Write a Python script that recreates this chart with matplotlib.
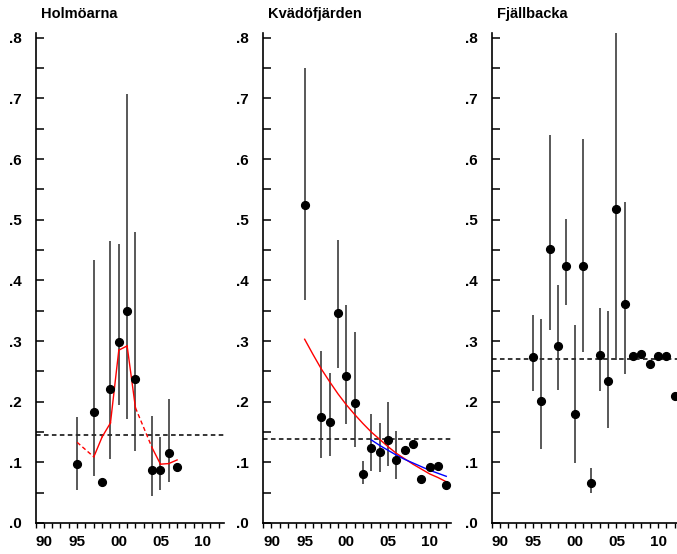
import numpy as np
import matplotlib
matplotlib.use('Agg')
import matplotlib.pyplot as plt
from matplotlib.ticker import MultipleLocator, FuncFormatter

plt.rcParams['font.family'] = ['Liberation Sans', 'DejaVu Sans']
plt.rcParams['font.weight'] = 'bold'

nan = np.nan

# Holmöarna
years1 = [1995, 1997, 1998, 1999, 2000, 2001, 2002, 2004, 2005, 2006, 2007]
mean1 = [0.098, 0.183, 0.068, 0.221, 0.299, 0.350, 0.238, 0.088, 0.087, 0.116, 0.093]
lo1 = [0.055, 0.077, nan, 0.106, 0.194, 0.172, 0.118, 0.045, 0.055, 0.067, nan]
hi1 = [0.174, 0.434, nan, 0.465, 0.460, 0.708, 0.480, 0.177, 0.141, 0.204, nan]
red_years1 = [1995, 1997, 1998, 1999, 2000, 2001, 2002, 2004, 2005, 2006, 2007]
red1 = [0.133, 0.109, 0.142, 0.165, 0.285, 0.292, 0.190, 0.124, 0.097, 0.098, 0.104]
ref1 = 0.145

# Kvädöfjärden
years2 = [1995, 1997, 1998, 1999, 2000, 2001, 2002, 2003, 2004, 2005, 2006,
          2007, 2008, 2009, 2010, 2011, 2012]
mean2 = [0.524, 0.174, 0.166, 0.346, 0.242, 0.198, 0.080, 0.123, 0.117, 0.137,
         0.104, 0.120, 0.130, 0.072, 0.092, 0.094, 0.063]
lo2 = [0.367, 0.108, 0.111, 0.255, 0.164, 0.125, 0.064, 0.086, 0.084, 0.094,
       0.072, nan, nan, nan, nan, nan, nan]
hi2 = [0.750, 0.284, 0.247, 0.467, 0.359, 0.315, 0.102, 0.179, 0.165, 0.199,
       0.152, nan, nan, nan, nan, nan, nan]
red_years2 = list(range(1995, 2013))
red2 = [0.303, 0.278, 0.254, 0.233, 0.213, 0.195, 0.179, 0.164, 0.150, 0.138,
        0.126, 0.115, 0.106, 0.097, 0.089, 0.081, 0.075, 0.068]
blue_years2 = list(range(2003, 2013))
blue2 = [0.137, 0.128, 0.120, 0.112, 0.105, 0.099, 0.093, 0.087, 0.082, 0.077]
ref2 = 0.139

# Fjällbacka
years3 = list(range(1995, 2013))
mean3 = [0.273, 0.202, 0.451, 0.292, 0.424, 0.179, 0.423, 0.066, 0.277, 0.234,
         0.518, 0.361, 0.275, 0.279, 0.262, 0.275, 0.275, 0.210]
lo3 = [0.217, 0.122, 0.318, 0.219, 0.359, 0.099, 0.282, 0.050, 0.218, 0.157,
       0.268, 0.246, nan, nan, nan, nan, nan, nan]
hi3 = [0.343, 0.336, 0.640, 0.392, 0.501, 0.327, 0.634, 0.091, 0.354, 0.349,
       0.809, 0.530, nan, nan, nan, nan, nan, nan]
ref3 = 0.271

titles = ['Holmöarna', 'Kvädöfjärden', 'Fjällbacka']
year_ticks = [1990, 1995, 2000, 2005, 2010]

W, H = 677, 554
fig = plt.figure(figsize=(W / 100, H / 100), dpi=100)

lefts = [35.5, 263, 491.5]
axes = []
for i, lp in enumerate(lefts):
    ax = fig.add_axes([lp / W, 31 / H, 188 / W, 490 / H])
    ax.set_xlim(1990, 2012.57)
    ax.set_ylim(0, 0.808)
    for s in ['top', 'right']:
        ax.spines[s].set_visible(False)
    for s in ['left', 'bottom']:
        ax.spines[s].set_linewidth(1.2)
    ax.yaxis.set_major_locator(MultipleLocator(0.1))
    ax.yaxis.set_minor_locator(MultipleLocator(0.05))
    ax.yaxis.set_major_formatter(FuncFormatter(lambda v, p: '.%d' % round(v * 10)))
    ax.set_xticks(year_ticks)
    ax.set_xticklabels(['%02d' % (y % 100) for y in year_ticks])
    ax.xaxis.set_minor_locator(MultipleLocator(1))
    ax.tick_params(axis='y', which='both', direction='in', length=6, width=1.1, pad=10)
    ax.tick_params(axis='y', which='major', labelsize=11)
    ax.tick_params(axis='x', which='both', direction='out', length=3.8, width=1, pad=5)
    ax.tick_params(axis='x', which='major', labelsize=11)
    ax.get_xticklabels()[0].set_horizontalalignment('left')
    fig.text((lp + 5) / W, 1 - 14 / H, titles[i], fontsize=10.5, fontweight='bold',
             ha='left', va='center')
    axes.append(ax)


def draw_points(ax, years, mean, lo, hi, ref):
    ax.axhline(ref, color='black', lw=1.1, dashes=(3, 2.2), zorder=1)
    ax.vlines(years, lo, hi, color='#2b2b2b', lw=1.1, zorder=2)
    ax.plot(years, mean, 'o', color='black', markersize=5.6, zorder=4, clip_on=False)


def draw_red(ax, years, vals, color):
    for j in range(len(years) - 1):
        ls = '-' if years[j + 1] - years[j] == 1 else (0, (3, 2))
        ax.plot(years[j:j + 2], vals[j:j + 2], color=color, lw=1.0, linestyle=ls, zorder=3)


draw_points(axes[0], years1, mean1, lo1, hi1, ref1)
draw_red(axes[0], red_years1, red1, 'red')

draw_points(axes[1], years2, mean2, lo2, hi2, ref2)
axes[1].plot(red_years2, red2, color='red', lw=1.0, zorder=3)
axes[1].plot(blue_years2, blue2, color='blue', lw=1.0, zorder=3)

draw_points(axes[2], years3, mean3, lo3, hi3, ref3)

fig.savefig('out.png', dpi=100)
